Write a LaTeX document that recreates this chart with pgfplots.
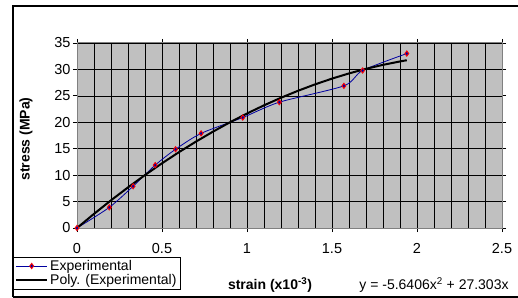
\documentclass[border=0pt]{standalone}
\usepackage{fontspec}
\setmainfont{Liberation Sans}
\usepackage{pgfplots}
\pgfplotsset{compat=1.18}
\definecolor{plotgray}{RGB}{192,192,192}
\definecolor{exblue}{RGB}{0,0,160}
\definecolor{framegray}{RGB}{128,128,128}
\begin{document}
\begin{tikzpicture}[font=\fontsize{14bp}{16bp}\selectfont]
\useasboundingbox (0bp,0bp) rectangle (518bp,298bp);
\fill[white] (0bp,0bp) rectangle (518bp,298bp);
\begin{axis}[
  at={(77bp,70bp)}, anchor=south west,
  scale only axis, width=425bp, height=185bp,
  xmin=0, xmax=2.5, ymin=0, ymax=35,
  xtick={0,0.5,1,1.5,2,2.5},
  xticklabels={0,0.5,1,1.5,2,2.5},
  minor xtick={0.1,0.2,0.3,0.4,0.6,0.7,0.8,0.9,1.1,1.2,1.3,1.4,1.6,1.7,1.8,1.9,2.1,2.2,2.3,2.4},
  ytick={0,5,10,15,20,25,30,35},
  xmajorgrids, xminorgrids, ymajorgrids,
  axis background/.style={fill=plotgray},
  axis line style={framegray, line width=1bp},
  tick align=outside, major tick length=4bp, minor tick length=0bp,
  tick style={black, line width=0.8bp},
  grid style={black, line width=0.7bp},
  minor grid style={black, line width=0.7bp},
  /pgf/number format/assume math mode=true,
  yticklabel style={font=\fontsize{14.5bp}{16bp}\selectfont, xshift=1bp},
  xticklabel style={font=\fontsize{14.5bp}{16bp}\selectfont, yshift=-8bp},
  legend style={at={(-0.1506,-0.1568)}, anchor=north west, draw=black, fill=white,
    font=\fontsize{14bp}{16bp}\selectfont, inner xsep=2bp, inner ysep=1bp,
    row sep=-1.5bp, cells={anchor=west}},
  legend image code/.code={\draw[mark repeat=2,mark phase=2,#1] plot coordinates {(0bp,0bp) (15.5bp,0bp) (31bp,0bp)};},
  clip=false,
]
\addplot[exblue, line width=0.8bp, smooth, tension=0.45, mark=diamond*, mark size=2.6bp,
  mark options={draw=red, fill=exblue, line width=0.9bp, solid}] coordinates {
  (0,0) (0.19,3.9) (0.33,7.9) (0.46,11.9) (0.58,14.9) (0.73,17.9) (0.975,20.9)
  (1.19,23.8) (1.57,26.9) (1.68,29.8) (1.94,33.0)
};
\addlegendentry{Experimental}
\addplot[black, line width=2bp, no marks] coordinates {
  (0,0) (0.1,2.674) (0.2,5.235) (0.3,7.683) (0.4,10.019) (0.5,12.241) (0.6,14.351)
  (0.7,16.348) (0.8,18.232) (0.9,20.004) (1.0,21.662) (1.1,23.208) (1.2,24.641)
  (1.3,25.961) (1.4,27.168) (1.5,28.263) (1.6,29.245) (1.7,30.114) (1.8,30.870)
  (1.9,31.513) (1.94,31.739)
};
\addlegendentry{Poly. (Experimental)}
\end{axis}
\draw[black, line width=1.2bp] (13bp,1bp) -- (13bp,292bp) -- (518bp,292bp);
\draw[black, line width=1.2bp] (13bp,1bp) -- (518bp,1bp);
\node[font=\fontsize{14bp}{16bp}\selectfont\bfseries, rotate=90] at (26bp,159bp) {stress (MPa)};
\node[font=\fontsize{14bp}{16bp}\selectfont\bfseries] at (270bp,13bp) {strain (x10\textsuperscript{-3})};
\node[font=\fontsize{14bp}{16bp}\selectfont] at (434bp,13bp) {y = -5.6406x\textsuperscript{2} + 27.303x};
\end{tikzpicture}
\end{document}
